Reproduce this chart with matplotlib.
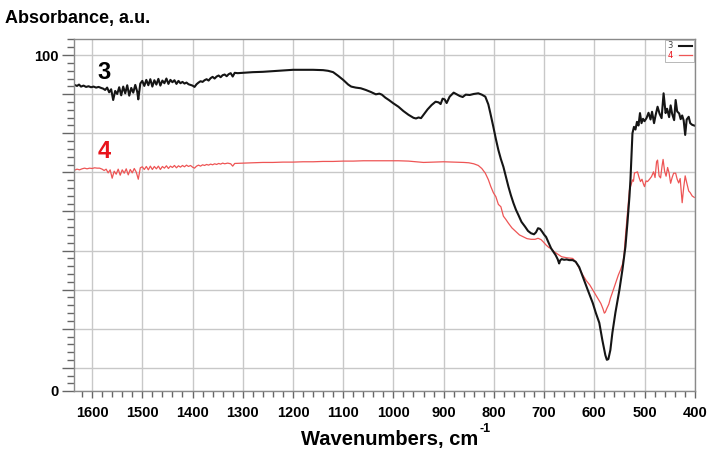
import numpy as np
import matplotlib.pyplot as plt
from matplotlib.ticker import FixedLocator, MultipleLocator

font = ['Liberation Sans', 'DejaVu Sans']

# spectrum 3 (black)
wn3 = [1635, 1630, 1626, 1622, 1617, 1612, 1607, 1602, 1597, 1592, 1587, 1582, 1578,
       1574, 1570, 1566, 1562, 1558, 1554, 1550, 1546, 1542, 1538, 1534, 1530, 1526, 1522,
       1518, 1514, 1510, 1508, 1504, 1500, 1496, 1492, 1488, 1484, 1480, 1476, 1472, 1468,
       1464, 1460, 1456, 1452, 1448, 1444, 1440, 1436, 1432, 1428, 1424, 1420, 1416, 1412,
       1408, 1404, 1400, 1396, 1392, 1388, 1384, 1380, 1376, 1372, 1368, 1364, 1360, 1356,
       1352, 1348, 1344, 1340, 1336, 1332, 1328, 1324, 1320, 1316, 1310, 1300, 1280, 1260,
       1240, 1220, 1200, 1180, 1160, 1140, 1130, 1120, 1110, 1100, 1090, 1084, 1075, 1065,
       1055, 1045, 1035, 1028, 1023, 1016, 1009, 1000, 990, 980, 970, 960, 955, 950, 945,
       940, 932, 924, 916, 910, 906, 902, 898, 894, 888, 880, 874, 868, 862, 856, 848, 840,
       831, 824, 817, 811, 807, 801, 796, 791, 786, 781, 776, 771, 766, 761, 756, 751, 745,
       738, 732, 726, 720, 716, 712, 708, 704, 700, 696, 690, 686, 681, 677, 673, 670, 668,
       665, 660, 655, 650, 643, 637, 630, 623, 613, 603, 597, 590, 584, 578, 575, 572, 568,
       564, 558, 550, 544, 538, 534, 530, 528, 526, 524, 521, 518, 515, 512, 509, 506, 503,
       500, 496, 492, 488, 485, 481, 478, 474, 470, 466, 462, 458, 455, 451, 448, 445, 441,
       438, 435, 431, 428, 425, 422, 419, 416, 412, 409, 405, 401]
ab3 = [91.1, 90.8, 91.2, 90.6, 90.9, 90.5, 90.7, 90.4, 90.6, 90.3, 90.5, 90.2, 90.0,
       89.6, 90.3, 88.9, 89.8, 86.6, 89.3, 88.4, 90.4, 88.0, 90.6, 88.6, 91.0, 87.9, 90.2,
       88.8, 91.1, 89.0, 86.8, 91.5, 92.3, 90.8, 92.6, 91.0, 92.8, 90.6, 92.5, 91.2, 92.9,
       90.9, 92.4, 91.6, 93.0, 91.4, 92.6, 91.9, 92.5, 91.4, 92.3, 91.6, 92.0, 91.5, 91.8,
       91.3, 91.1, 90.9, 90.5, 91.3, 91.8, 92.2, 92.0, 92.5, 92.8, 92.4, 93.1, 93.5, 93.0,
       93.6, 93.9, 93.4, 94.0, 94.2, 93.7, 94.3, 94.6, 93.6, 94.7, 94.6, 94.7, 94.9, 95.0,
       95.2, 95.4, 95.6, 95.6, 95.6, 95.5, 95.3, 94.9, 93.8, 92.6, 91.2, 90.6, 90.3, 90.1,
       89.6, 89.0, 88.3, 88.5, 88.2, 87.3, 86.6, 85.6, 84.6, 83.3, 82.2, 81.3, 81.1, 81.4, 81.2,
       82.2, 83.8, 85.1, 86.1, 85.9, 85.4, 87.0, 86.8, 85.7, 87.6, 88.8, 88.3, 87.8, 87.5, 88.2, 88.1, 88.4,
       88.6, 88.2, 87.6, 85.3, 82.7, 78.6, 75.0, 71.7, 69.0, 66.7, 63.8, 60.8, 58.2, 55.9, 53.9, 52.3, 50.3,
       48.9, 47.6, 46.9, 46.6, 47.2, 48.4, 48.2, 47.4, 46.5, 45.8, 43.8, 42.4, 41.3, 40.4, 39.2, 37.9, 38.8,
       39.2, 39.0, 39.1, 38.9, 38.9, 38.4, 36.8, 34.0, 30.0, 26.1, 23.2, 20.2, 15.1, 10.6, 9.2, 9.4, 12.1,
       17.2, 23.2, 30.0, 36.0, 42.9, 50.0, 57.8, 62.8, 70.0, 76.7, 78.6, 77.8, 80.1, 79.0, 82.7, 79.7, 81.0,
       80.3, 81.2, 82.8, 80.8, 83.1, 79.7, 82.0, 84.6, 82.5, 81.2, 88.6, 82.7, 84.0, 81.5, 85.0, 82.5, 80.6,
       86.6, 83.2, 82.6, 80.9, 82.0, 80.5, 76.2, 80.8, 81.6, 79.7, 79.2, 79.0]

# spectrum 4 (red)
wn4 = [1635, 1630, 1625, 1620, 1615, 1610, 1605, 1600, 1595, 1590, 1585, 1580, 1576,
       1572, 1568, 1564, 1560, 1556, 1552, 1548, 1544, 1540, 1536, 1532, 1528, 1524, 1520,
       1516, 1512, 1508, 1504, 1500, 1496, 1492, 1488, 1484, 1480, 1476, 1472, 1468, 1464,
       1460, 1456, 1452, 1448, 1444, 1440, 1436, 1432, 1428, 1424, 1420, 1416, 1412, 1408,
       1404, 1400, 1396, 1392, 1388, 1384, 1380, 1376, 1372, 1368, 1364, 1360, 1356, 1352,
       1348, 1344, 1340, 1336, 1330, 1324, 1320, 1316, 1300, 1280, 1260, 1240, 1220, 1200,
       1180, 1160, 1140, 1120, 1100, 1080, 1060, 1040, 1020, 1000, 990, 970, 955, 940, 920,
       900, 880, 860, 850, 840, 831, 824, 817, 811, 806, 801, 796, 791, 786, 781, 776, 771,
       764, 756, 749, 742, 734, 726, 718, 712, 706, 702, 696, 690, 686, 680, 672, 665, 655,
       648, 643, 637, 630, 623, 616, 609, 603, 597, 592, 587, 583, 580, 578, 575, 571, 568,
       564, 560, 556, 552, 548, 544, 541, 538, 534, 530, 527, 524, 522, 520, 517, 514, 511,
       508, 505, 502, 500, 497, 494, 490, 486, 482, 479, 476, 474, 471, 468, 465, 463, 460,
       457, 454, 451, 448, 445, 442, 438, 435, 432, 429, 425, 422, 419, 416, 412, 409, 405, 401]
ab4 = [65.7, 66.0, 65.8, 66.1, 66.3, 66.1, 66.3, 66.2, 66.4, 66.3, 66.3, 66.0, 65.6,
       66.0, 64.9, 65.8, 63.3, 65.4, 64.5, 66.0, 64.2, 65.8, 64.8, 66.1, 64.3, 65.9, 64.9,
       66.2, 65.1, 63.0, 66.4, 66.7, 65.9, 66.8, 65.8, 66.9, 65.9, 66.8, 66.1, 66.9, 65.9,
       66.8, 66.3, 67.0, 66.2, 66.9, 66.5, 67.1, 66.4, 67.0, 66.6, 67.1, 66.7, 67.2, 66.8,
       67.1, 66.6, 66.3, 66.9, 67.2, 66.9, 67.3, 67.1, 67.4, 67.2, 67.5, 67.3, 67.6, 67.4,
       67.7, 67.5, 67.8, 67.6, 67.8, 67.6, 66.9, 67.7, 67.8, 67.9, 68.0, 68.0, 68.1, 68.1,
       68.2, 68.2, 68.3, 68.3, 68.4, 68.4, 68.5, 68.5, 68.5, 68.5, 68.5, 68.4, 68.2, 68.0, 68.1,
       68.2, 68.1, 68.0, 67.9, 67.6, 67.1, 66.2, 64.8, 62.9, 60.8, 59.0, 57.8, 55.5, 54.8, 52.0, 51.0, 49.9,
       48.5, 47.4, 46.4, 45.9, 45.3, 45.1, 45.1, 45.4, 45.0, 44.4, 43.4, 42.6, 42.4, 41.4, 40.6, 39.9, 39.6,
       39.5, 39.4, 38.4, 36.5, 34.5, 32.8, 31.5, 30.0, 28.5, 27.2, 26.0, 24.5, 23.1, 23.4, 24.5, 25.8, 27.5,
       29.2, 31.0, 32.8, 34.5, 35.9, 37.6, 39.9, 45.9, 52.8, 59.8, 61.2, 62.8, 62.4, 64.9, 65.0, 65.2, 63.6,
       62.3, 63.0, 61.5, 60.8, 62.5, 62.3, 63.0, 63.8, 65.2, 63.5, 68.2, 68.7, 64.0, 63.4, 67.0, 68.9, 65.4,
       63.9, 66.5, 64.8, 61.8, 63.5, 64.8, 64.8, 63.0, 61.9, 63.2, 56.0, 60.5, 64.0, 62.0, 59.5, 59.0, 58.0, 57.6]

# y grid of the instrument plot is not on round numbers
ygrid = [100 - k * 11.65 for k in range(9)]

fig = plt.figure(figsize=(7.15, 4.58), dpi=100)
ax = fig.add_axes([0.1035, 0.147, 0.8685, 0.768])

ax.plot(wn4, ab4, color='#ee5555', lw=0.9, label='4')
ax.plot(wn3, ab3, color='#151515', lw=1.5, label='3')

ax.set_xlim(1636, 399.5)
ax.set_ylim(0, 104.8)

ax.xaxis.set_major_locator(MultipleLocator(100))
ax.xaxis.set_minor_locator(MultipleLocator(20))
ax.yaxis.set_major_locator(FixedLocator(ygrid + [0]))
ax.yaxis.set_minor_locator(FixedLocator([100 + 2.33 * i for i in range(1, 3)] +
                                        [100 - 2.33 * i for i in range(1, 43) if i % 5]))
ax.set_yticklabels(['100'] + [''] * 8 + ['0'])
ax.grid(True, which='major', color='#c8c8c8', lw=1.0)
ax.set_axisbelow(True)

for s in ax.spines.values():
    s.set_color('#8a8a8a')
    s.set_linewidth(1.0)

ax.tick_params(axis='x', which='major', direction='out', length=5, width=1, color='#666666', pad=6)
ax.tick_params(axis='x', which='minor', direction='out', length=4, width=1, color='#666666')
ax.tick_params(axis='y', which='major', direction='out', length=9, width=1, color='#666666', pad=2)
ax.tick_params(axis='y', which='minor', direction='out', length=5, width=1, color='#666666')
for lab in ax.get_xticklabels() + ax.get_yticklabels():
    lab.set_fontfamily(font)
    lab.set_fontweight('bold')
    lab.set_fontsize(10.5)

ax.text(1576, 94.9, '3', fontsize=17, fontweight='bold', family=font, color='black', ha='center', va='center')
ax.text(1576, 71.3, '4', fontsize=17, fontweight='bold', family=font, color='#e8131b', ha='center', va='center')

fig.text(0.007, 0.96, 'Absorbance, a.u.', fontsize=13, fontweight='bold', family=font, ha='left', va='center')
xl = fig.text(0.545, 0.04, 'Wavenumbers, cm', fontsize=14.5, fontweight='bold', family=font,
              ha='center', va='center')
ax.annotate('-1', xy=(1, 0.75), xycoords=xl, xytext=(1, 0), textcoords='offset points',
            fontsize=9, fontweight='bold', family=font, ha='left', va='bottom')

h, l = ax.get_legend_handles_labels()
leg = ax.legend(h[::-1], l[::-1], loc='upper right', fontsize=6, frameon=True, markerfirst=False,
                handlelength=1.6, borderaxespad=0.1, borderpad=0.2, labelspacing=0.1,
                fancybox=False, labelcolor=['#444444', '#e8131b'])
leg.get_frame().set_edgecolor('#999999')
leg.get_frame().set_linewidth(0.6)

fig.savefig('out.png', dpi=100)
